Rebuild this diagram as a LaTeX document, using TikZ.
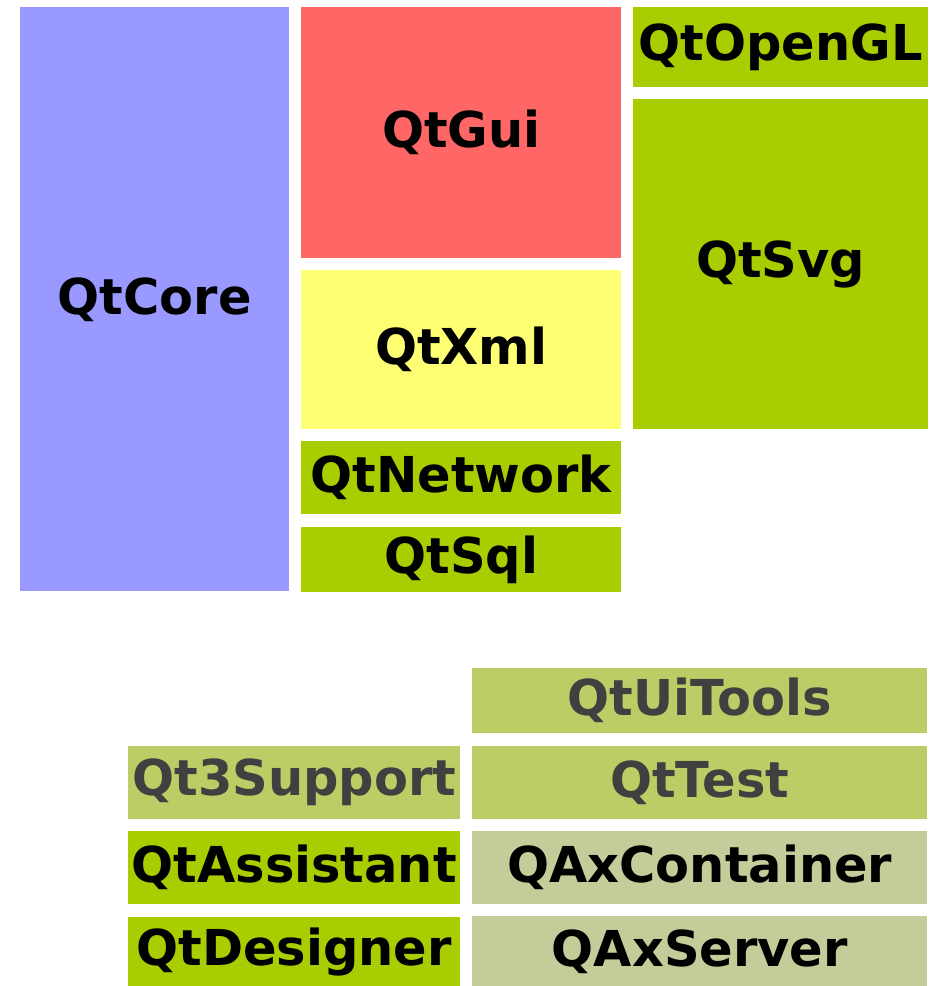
\documentclass[tikz,border=0pt]{standalone}
\usepackage{fontspec}
\setmainfont{DejaVu Sans}
\usepackage{tikz}

\definecolor{corecol}{HTML}{9999FF}
\definecolor{guicol}{HTML}{FF6666}
\definecolor{xmlcol}{HTML}{FFFF73}
\definecolor{modcol}{HTML}{A8CD00}
\definecolor{toolcol}{HTML}{BCCD66}
\definecolor{axcol}{HTML}{C4CD99}
\definecolor{greytext}{HTML}{404040}

\tikzset{
  module/.style n args={2}{draw=none, anchor=north west, inner sep=0pt,
    minimum width=#1*0.75pt, minimum height=#2*0.75pt,
    font=\fontsize{37.1}{44}\selectfont\bfseries},
  faded/.style={text=greytext}
}

\begin{document}
\begin{tikzpicture}[x=0.75pt,y=0.75pt,yscale=-1,xscale=1]
\useasboundingbox (0,0) rectangle (932,986);

% Left column
\node[module={269}{584}, fill=corecol] (core) at (20,7) {QtCore};

% Middle column
\node[module={320}{251}, fill=guicol] (gui) at (301,7) {QtGui};
\node[module={320}{159}, fill=xmlcol] (xml) at (301,270) {QtXml};
\node[module={320}{73}, fill=modcol] (network) at (301,441) {QtNetwork};
\node[module={320}{65}, fill=modcol] (sql) at (301,527) {QtSql};

% Right column
\node[module={295}{80}, fill=modcol] (opengl) at (633,7) {QtOpenGL};
\node[module={295}{330}, fill=modcol] (svg) at (633,99) {QtSvg};

% Tools and extra modules
\node[module={455}{65}, fill=toolcol, faded] (uitools) at (472,668) {QtUiTools};
\node[module={332}{73}, fill=toolcol, faded] (support) at (128,746) {Qt3Support};
\node[module={455}{73}, fill=toolcol, faded] (test) at (472,746) {QtTest};
\node[module={332}{73}, fill=modcol] (assistant) at (128,831) {QtAssistant};
\node[module={455}{73}, fill=axcol] (container) at (472,831) {QAxContainer};
\node[module={332}{69}, fill=modcol] (designer) at (128,917) {QtDesigner};
\node[module={455}{70}, fill=axcol] (server) at (472,916) {QAxServer};
\end{tikzpicture}
\end{document}
